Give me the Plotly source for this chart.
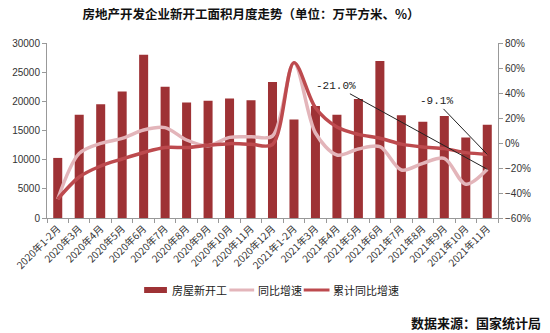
import plotly.graph_objects as go

months = ["2020年1-2月", "2020年3月", "2020年4月", "2020年5月", "2020年6月", "2020年7月",
          "2020年8月", "2020年9月", "2020年10月", "2020年11月", "2020年12月",
          "2021年1-2月", "2021年3月", "2021年4月", "2021年5月", "2021年6月", "2021年7月",
          "2021年8月", "2021年9月", "2021年10月", "2021年11月"]
new_starts = [10300, 17700, 19500, 21700, 28000, 22500, 19800, 20100, 20500, 20200, 23300,
              16900, 19200, 17700, 20400, 26900, 17600, 16500, 17500, 13800, 16000]
yoy = [-44.9, -8.3, -0.3, 3.7, 10.4, 12.3, 2.4, -2.1, 4.5, 5.0, 5.6,
       64.3, 8.0, -9.6, -4.8, -2.9, -21.6, -16.3, -12.3, -33.0, -21.0]
cum_yoy = [-44.9, -27.2, -18.4, -12.8, -7.6, -3.6, -3.6, -1.8, -0.5, -1.0, -1.2,
           64.3, 28.2, 12.8, 6.9, 3.8, -0.9, -3.2, -4.5, -7.7, -9.1]
series_names = ["房屋新开工", "同比增速", "累计同比增速"]
colors = ["#9e3235", "#e3b5ba", "#bd4a4e"]

FONT = "Liberation Sans, Arial, Noto Sans CJK SC"
CJK = "Noto Sans CJK SC, Liberation Sans"

L, R, T, B, W, H = 43, 52, 43, 115, 550, 333
PW, PH = W - L - R, H - T - B


def px(x):
    return (x - L) / PW


def py(y):
    return (H - B - y) / PH


fig = go.Figure()
fig.add_trace(go.Bar(x=months, y=new_starts, name=series_names[0],
                     marker=dict(color=colors[0], line=dict(width=0))))
fig.add_trace(go.Scatter(x=months, y=yoy, name=series_names[1], yaxis="y2", mode="lines",
                         line=dict(color=colors[1], width=3.5, shape="spline", smoothing=0.9)))
fig.add_trace(go.Scatter(x=months, y=cum_yoy, name=series_names[2], yaxis="y2", mode="lines",
                         line=dict(color=colors[2], width=3.5, shape="spline", smoothing=0.9)))

fig.add_annotation(x=months[-1], y=yoy[-1], yref="y2", text="-21.0%",
                   showarrow=True, arrowhead=0, arrowwidth=1, arrowcolor="#222",
                   ax=-151, ay=-83, font=dict(family="Liberation Mono, DejaVu Sans Mono", size=11, color="#222"))
fig.add_annotation(x=months[-1], y=cum_yoy[-1], yref="y2", text="-9.1%",
                   showarrow=True, arrowhead=0, arrowwidth=1, arrowcolor="#222",
                   ax=-51, ay=-53, font=dict(family="Liberation Mono, DejaVu Sans Mono", size=11, color="#222"))
fig.add_annotation(xref="paper", yref="paper", x=px(543), y=py(322),
                   xanchor="right", yanchor="middle", showarrow=False,
                   text="<b>数据来源：国家统计局</b>",
                   font=dict(family=CJK, size=13, color="#111"))

# manual legend
leg_y = 290
fig.add_shape(type="rect", xref="paper", yref="paper", x0=px(141), x1=px(164),
              y0=py(leg_y + 3), y1=py(leg_y - 3), fillcolor=colors[0], line=dict(width=0))
fig.add_shape(type="line", xref="paper", yref="paper", x0=px(227), x1=px(252),
              y0=py(leg_y), y1=py(leg_y), line=dict(color=colors[1], width=3))
fig.add_shape(type="line", xref="paper", yref="paper", x0=px(302), x1=px(328),
              y0=py(leg_y), y1=py(leg_y), line=dict(color=colors[2], width=3))
for name, xs in zip(series_names, [167, 254, 330]):
    fig.add_annotation(xref="paper", yref="paper", x=px(xs), y=py(leg_y),
                       xanchor="left", yanchor="middle", showarrow=False, text=name,
                       font=dict(family=CJK, size=11, color="#222"))

fig.update_layout(
    width=W, height=H,
    margin=dict(l=L, r=R, t=T, b=B),
    paper_bgcolor="white", plot_bgcolor="white",
    title=dict(text="<b>房地产开发企业新开工面积月度走势（单位：万平方米、%）</b>",
               x=251 / W, xanchor="center", y=1 - 15 / H, yanchor="middle",
               font=dict(family=CJK, size=12.5, color="#111")),
    font=dict(family=FONT, size=10, color="#333"),
    bargap=0.58,
    showlegend=False,
    xaxis=dict(type="category", tickangle=-45, showline=True, linecolor="#999", linewidth=1,
               ticks="outside", ticklen=4, tickcolor="#999", tickson="boundaries",
               showgrid=False, tickfont=dict(family=CJK, size=10, color="#333")),
    yaxis=dict(range=[0, 30000], dtick=5000, tickformat="d", showline=True, linecolor="#999",
               linewidth=1, ticks="outside", ticklen=4, tickcolor="#999", showgrid=False,
               zeroline=False, tickfont=dict(size=10, color="#333")),
    yaxis2=dict(range=[-60, 80], dtick=20, overlaying="y", side="right", ticksuffix="%",
                showline=True, linecolor="#999", linewidth=1, ticks="outside", ticklen=4,
                tickcolor="#999", showgrid=False, zeroline=False,
                tickfont=dict(size=10, color="#333")),
)

fig.write_html("out.html")
